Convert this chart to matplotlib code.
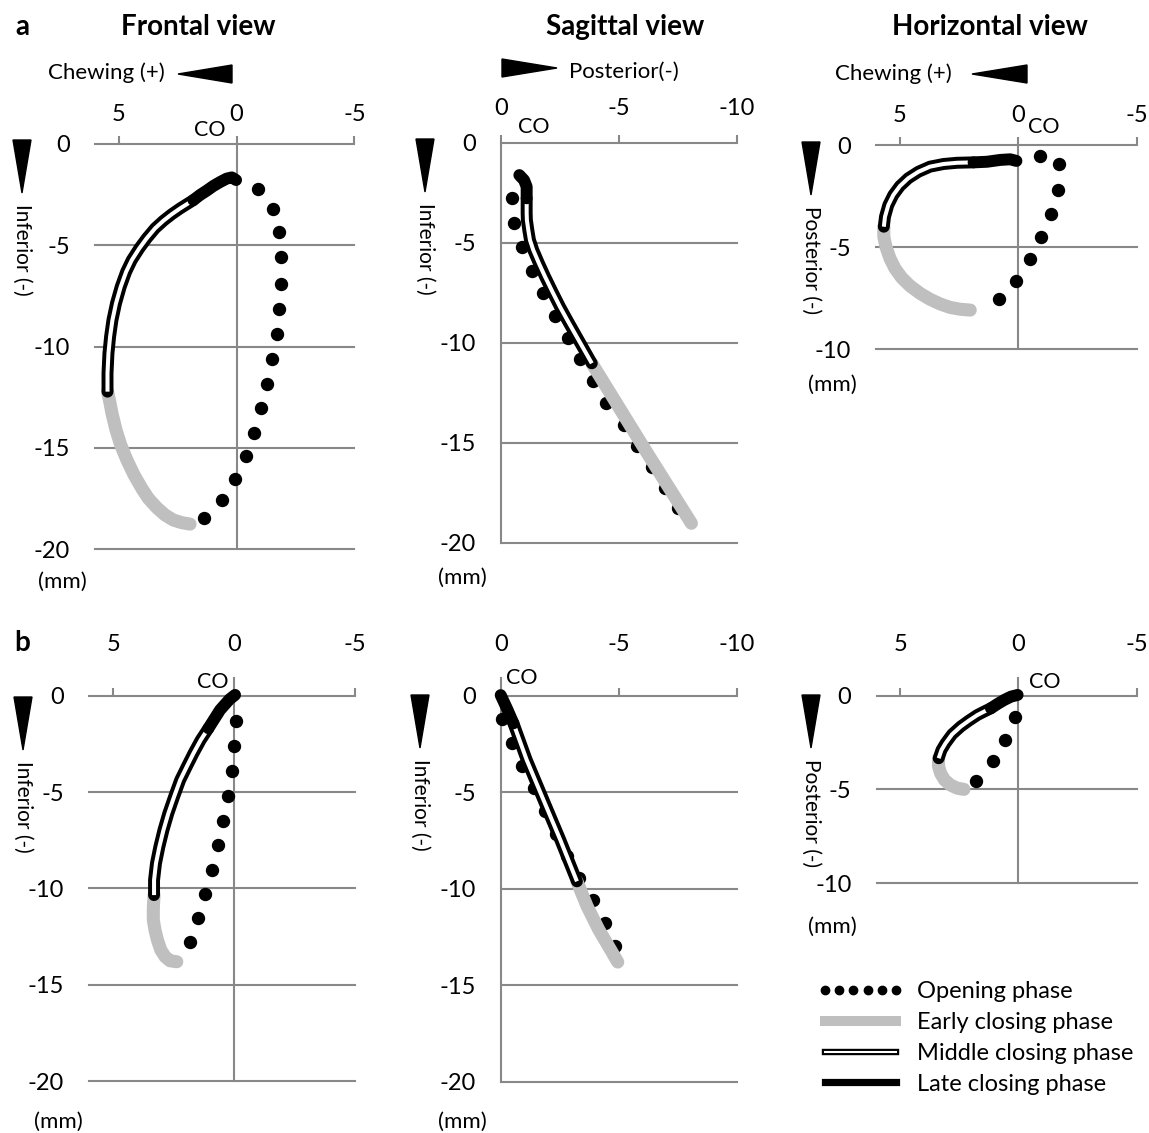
import numpy as np
import matplotlib
matplotlib.use("Agg")
import matplotlib.pyplot as plt
from matplotlib.lines import Line2D
from matplotlib.patches import Polygon
from matplotlib.legend_handler import HandlerTuple

plt.rcParams['font.family'] = ['Lato', 'DejaVu Sans']
plt.rcParams['axes.unicode_minus'] = False

W, H = 1149, 1133
GRID = '#888888'
EARLY = '#bfbfbf'

# ---- data (mm) ----
# row a, frontal view (x = chewing side +, y = inferior -)
fa_open_x = [-0.92, -1.53, -1.80, -1.87, -1.87, -1.81, -1.70, -1.52, -1.31, -1.04, -0.74, -0.39, 0.06, 0.62, 1.40]
fa_open_y = [-2.22, -3.21, -4.36, -5.60, -6.91, -8.15, -9.38, -10.62, -11.85, -13.05, -14.25, -15.41, -16.56, -17.58, -18.45]
fa_early_x = [1.97, 2.32, 2.68, 3.03, 3.38, 3.74, 4.02, 4.34, 4.65, 4.91, 5.11, 5.28, 5.39, 5.47]
fa_early_y = [-18.77, -18.70, -18.57, -18.32, -17.96, -17.50, -17.0, -16.35, -15.60, -14.86, -14.12, -13.30, -12.64, -12.23]
fa_mid_x = [5.47, 5.47, 5.43, 5.36, 5.26, 5.11, 4.91, 4.68, 4.44, 4.12, 3.81, 3.45, 3.10, 2.75, 2.39, 1.83]
fa_mid_y = [-12.23, -11.32, -10.34, -9.51, -8.69, -7.87, -7.05, -6.31, -5.73, -5.15, -4.66, -4.16, -3.79, -3.47, -3.18, -2.77]
fa_late_x = [1.83, 1.55, 1.26, 0.98, 0.70, 0.42, 0.20, 0.02]
fa_late_y = [-2.77, -2.52, -2.30, -2.07, -1.88, -1.71, -1.65, -1.78]

# row a, sagittal view (x = posterior -, y = inferior -)
sa_open_x = [-0.47, -0.58, -0.92, -1.33, -1.81, -2.31, -2.84, -3.36, -3.92, -4.45, -5.23, -5.79, -6.39, -6.95, -7.51]
sa_open_y = [-2.78, -4.0, -5.2, -6.4, -7.53, -8.65, -9.78, -10.83, -11.9, -13.03, -14.12, -15.17, -16.23, -17.28, -18.28]
sa_early_x = [-8.08, -6.04, -3.86]
sa_early_y = [-19.03, -15.2, -11.03]
sa_mid_x = [-3.86, -3.50, -3.22, -2.86, -2.51, -2.19, -1.88, -1.62, -1.38, -1.24, -1.17, -1.11, -1.10, -1.10]
sa_mid_y = [-11.03, -10.28, -9.70, -8.95, -8.20, -7.45, -6.70, -6.03, -5.37, -4.87, -4.37, -3.87, -3.53, -2.78]
sa_late_x = [-1.10, -1.10, -0.99, -0.79]
sa_late_y = [-2.78, -2.2, -1.87, -1.62]

# row a, horizontal view (x = chewing side +, y = posterior -)
ha_open_x = [-0.92, -1.74, -1.68, -1.37, -0.97, -0.49, 0.08, 0.82]
ha_open_y = [-0.54, -0.93, -2.2, -3.38, -4.52, -5.6, -6.66, -7.54]
ha_early_x = [2.02, 2.44, 2.87, 3.29, 3.72, 4.14, 4.56, 4.92, 5.20, 5.41, 5.58, 5.67, 5.67]
ha_early_y = [-8.08, -8.04, -7.95, -7.78, -7.55, -7.26, -6.90, -6.49, -6.04, -5.55, -4.98, -4.49, -4.0]
ha_mid_x = [5.67, 5.62, 5.48, 5.27, 4.99, 4.64, 4.21, 3.72, 3.15, 2.58, 1.88]
ha_mid_y = [-4.0, -3.51, -2.94, -2.45, -2.01, -1.63, -1.31, -1.06, -0.93, -0.87, -0.85]
ha_late_x = [1.88, 1.31, 0.75, 0.33, 0.07]
ha_late_y = [-0.85, -0.82, -0.73, -0.70, -0.78]

# row b, frontal view
fb_open_x = [-0.07, 0.0, 0.1, 0.26, 0.47, 0.67, 0.9, 1.19, 1.48, 1.82]
fb_open_y = [-1.3, -2.61, -3.89, -5.19, -6.49, -7.75, -9.05, -10.31, -11.56, -12.8]
fb_early_x = [2.37, 2.65, 2.85, 3.03, 3.17, 3.27, 3.34, 3.34, 3.31]
fb_early_y = [-13.81, -13.76, -13.55, -13.20, -12.68, -12.17, -11.65, -11.04, -10.35]
fb_mid_x = [3.31, 3.31, 3.23, 3.09, 2.92, 2.72, 2.48, 2.23, 1.96, 1.68, 1.38, 1.06]
fb_mid_y = [-10.35, -9.57, -8.70, -7.84, -6.97, -6.11, -5.24, -4.38, -3.69, -2.99, -2.30, -1.69]
fb_late_x = [1.06, 0.58, 0.19, -0.04]
fb_late_y = [-1.69, -0.74, -0.19, 0.04]

# row b, sagittal view
sb_open_x = [-0.04, -0.47, -0.92, -1.39, -1.89, -2.34, -2.81, -3.3, -3.91, -4.4, -4.84]
sb_open_y = [-1.22, -2.43, -3.63, -4.78, -5.99, -7.14, -8.32, -9.45, -10.59, -11.76, -12.96]
sb_early_x = [-3.23, -3.66, -4.15, -4.65, -4.96]
sb_early_y = [-9.61, -10.9, -12.1, -13.14, -13.79]
sb_mid_x = [-3.23, -2.52, -1.81, -1.1, -0.54]
sb_mid_y = [-9.61, -7.45, -5.39, -3.32, -1.43]
sb_late_x = [-0.54, -0.26, 0.0]
sb_late_y = [-1.43, -0.65, 0.03]

# row b, horizontal view
hb_open_x = [0.14, 0.57, 1.09, 1.77]
hb_open_y = [-1.12, -2.37, -3.49, -4.55]
hb_early_x = [2.3, 2.58, 2.87, 3.12, 3.29, 3.38, 3.37]
hb_early_y = [-5.0, -4.94, -4.77, -4.50, -4.14, -3.75, -3.34]
hb_mid_x = [3.37, 3.25, 3.08, 2.80, 2.44, 2.09, 1.73, 1.45, 1.16]
hb_mid_y = [-3.34, -2.90, -2.54, -2.06, -1.65, -1.33, -1.03, -0.85, -0.67]
hb_late_x = [1.16, 0.88, 0.60, 0.31, 0.03]
hb_late_y = [-0.67, -0.44, -0.23, -0.05, 0.04]

front_xticks = [5, 0, -5]
sag_xticks = [0, -5, -10]
fs = 17
lab_fs = 16

fig = plt.figure(figsize=(W / 100, H / 100), dpi=100)


def px_text(x, y, s, **kw):
    kw.setdefault('ha', 'center')
    kw.setdefault('va', 'center')
    kw.setdefault('fontsize', lab_fs)
    fig.text(x / W, 1 - y / H, s, **kw)


def px_tri(pts):
    verts = [(x / W, 1 - y / H) for x, y in pts]
    fig.patches.append(Polygon(verts, closed=True, color='black',
                               transform=fig.transFigure, figure=fig))


def panel(x0, x1, ytop, ybot, xlim, ylim, xticks, xpad, zero_ext, data):
    ax = fig.add_axes([x0 / W, 1 - ybot / H, (x1 - x0) / W, (ybot - ytop) / H])
    ax.set_xlim(*xlim)
    ax.set_ylim(*ylim)
    for s in ax.spines.values():
        s.set_visible(False)
    yt = np.arange(ylim[0], ylim[1] + 1, 5)
    for v in yt:
        ax.axhline(v, color=GRID, lw=1.5, clip_on=False, zorder=1)
    ax.axvline(0, color=GRID, lw=1.5, clip_on=False, zorder=1)
    if zero_ext:
        ppu = (ybot - ytop) / (ylim[1] - ylim[0])
        ax.plot([0, 0], [0, zero_ext / ppu], color=GRID, lw=1.5, clip_on=False, zorder=1)
    ax.xaxis.set_ticks_position('top')
    ax.set_xticks(xticks)
    ax.set_xticklabels([str(t) for t in xticks])
    ax.set_yticks(yt)
    ax.set_yticklabels([str(int(t)) for t in yt])
    ax.tick_params(axis='x', length=6, width=1.5, color=GRID, pad=xpad, labelsize=fs)
    ax.tick_params(axis='y', length=0, pad=18, labelsize=fs)
    ox, oy, ex, ey, mx, my, lx, ly = data
    ax.plot(ox, oy, 'o', color='black', ms=8.6, clip_on=False, zorder=3)
    ax.plot(ex, ey, color=EARLY, lw=9.4, solid_capstyle='round',
            solid_joinstyle='round', clip_on=False, zorder=4)
    ax.plot(mx, my, color='black', lw=8.6, solid_capstyle='round',
            solid_joinstyle='round', clip_on=False, zorder=5)
    ax.plot(mx, my, color='white', lw=2.9, solid_capstyle='butt',
            solid_joinstyle='round', clip_on=False, zorder=6)
    ax.plot(lx, ly, color='black', lw=8.6, solid_capstyle='round',
            solid_joinstyle='round', clip_on=False, zorder=7)
    return ax


panel(95, 354.5, 144, 549, (6, -5), (-20, 0), front_xticks, 8, 0,
      (fa_open_x, fa_open_y, fa_early_x, fa_early_y, fa_mid_x, fa_mid_y, fa_late_x, fa_late_y))
panel(500.7, 736.7, 142.7, 542.7, (0, -10), (-20, 0), sag_xticks, 11, 0,
      (sa_open_x, sa_open_y, sa_early_x, sa_early_y, sa_mid_x, sa_mid_y, sa_late_x, sa_late_y))
panel(876, 1136.5, 145, 349.3, (6, -5), (-10, 0), front_xticks, 8, 0,
      (ha_open_x, ha_open_y, ha_early_x, ha_early_y, ha_mid_x, ha_mid_y, ha_late_x, ha_late_y))
panel(89, 355, 695.7, 1081, (6, -5), (-20, 0), front_xticks, 23, 18,
      (fb_open_x, fb_open_y, fb_early_x, fb_early_y, fb_mid_x, fb_mid_y, fb_late_x, fb_late_y))
panel(500.7, 736.7, 695.7, 1082, (0, -10), (-20, 0), sag_xticks, 23, 18,
      (sb_open_x, sb_open_y, sb_early_x, sb_early_y, sb_mid_x, sb_mid_y, sb_late_x, sb_late_y))
panel(876.5, 1136.5, 695.7, 883, (6, -5), (-10, 0), front_xticks, 23, 18,
      (hb_open_x, hb_open_y, hb_early_x, hb_early_y, hb_mid_x, hb_mid_y, hb_late_x, hb_late_y))

# titles and panel letters
px_text(198, 27, 'Frontal view', fontsize=20, fontweight='bold')
px_text(625, 27, 'Sagittal view', fontsize=20, fontweight='bold')
px_text(990, 27, 'Horizontal view', fontsize=20, fontweight='bold')
px_text(22, 27, 'a', fontsize=20, fontweight='bold')
px_text(22, 643, 'b', fontsize=20, fontweight='bold')

# direction hints
px_text(106, 73, 'Chewing (+)')
px_tri([(178, 74), (232, 65), (232, 83)])
px_text(624, 72, 'Posterior(-)')
px_tri([(557, 68), (502, 59), (502, 77)])
px_text(893, 74, 'Chewing (+)')
px_tri([(972, 74), (1027, 65), (1027, 83)])

for x, ytop, lab in [(22, 140, 'Inferior (-)'), (425, 139, 'Inferior (-)'),
                     (811, 142, 'Posterior (-)'), (23, 697, 'Inferior (-)'),
                     (420, 695, 'Inferior (-)'), (811, 695, 'Posterior (-)')]:
    px_tri([(x - 9, ytop), (x + 9, ytop), (x, ytop + 53)])
    px_text(x, ytop + 64, lab, fontsize=15, rotation=-90, va='top')

for x, y in [(62, 582), (462, 578), (832, 385), (58, 1122), (462, 1122), (832, 927)]:
    px_text(x, y, '(mm)')

for x, y in [(210, 130), (534, 127), (1044, 127), (213, 682), (522, 678), (1045, 682)]:
    px_text(x, y, 'CO', fontsize=15.5)

# legend
h_open = Line2D([], [], ls='none', marker='o', ms=6, color='black')
h_early = Line2D([], [], color=EARLY, lw=7.2)
h_mid = (Line2D([], [], color='black', lw=4.6), Line2D([], [], color='white', lw=1.5))
h_late = Line2D([], [], color='black', lw=5.2)
fig.legend([h_open, h_early, h_mid, h_late],
           ['Opening phase', 'Early closing phase', 'Middle closing phase', 'Late closing phase'],
           handler_map={tuple: HandlerTuple(ndivide=1, pad=0)},
           loc='upper left', bbox_to_anchor=(818 / W, 1 - 981 / H),
           frameon=False, fontsize=fs, numpoints=6, handlelength=3.6,
           handletextpad=0.6, labelspacing=0.42, borderpad=0, borderaxespad=0)

fig.savefig('out.png', dpi=100, facecolor='white')
